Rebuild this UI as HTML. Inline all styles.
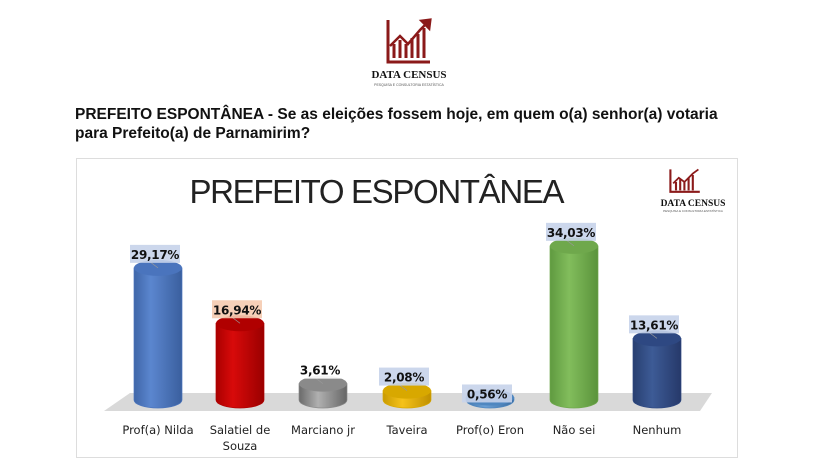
<!DOCTYPE html>
<html><head><meta charset="utf-8"><style>
body{margin:0;width:815px;height:452px;background:#fff;overflow:hidden;font-family:"Liberation Sans",sans-serif;position:relative}
.h{position:absolute;left:75px;top:105px;font-weight:bold;font-size:15.5px;line-height:19px;color:#111;width:672px}
.frame{position:absolute;left:76px;top:158px;width:662px;height:300px;border:1px solid #ddd;box-sizing:border-box}
</style></head><body>
<svg width="815" height="452" style="position:absolute;left:0;top:0">
<defs>
<linearGradient id="gb" x1="0" x2="1"><stop offset="0" stop-color="#3f66a8"/><stop offset=".35" stop-color="#5b86cf"/><stop offset="1" stop-color="#3a5f9e"/></linearGradient>
<linearGradient id="gr" x1="0" x2="1"><stop offset="0" stop-color="#a00"/><stop offset=".35" stop-color="#d80a0a"/><stop offset="1" stop-color="#9a0000"/></linearGradient>
<linearGradient id="gg" x1="0" x2="1"><stop offset="0" stop-color="#6a6a6a"/><stop offset=".4" stop-color="#b0b0b0"/><stop offset="1" stop-color="#666"/></linearGradient>
<linearGradient id="gy" x1="0" x2="1"><stop offset="0" stop-color="#c99a00"/><stop offset=".4" stop-color="#f5c21a"/><stop offset="1" stop-color="#c09000"/></linearGradient>
<linearGradient id="gl" x1="0" x2="1"><stop offset="0" stop-color="#3e75ad"/><stop offset=".4" stop-color="#6b9fd4"/><stop offset="1" stop-color="#3b6ea3"/></linearGradient>
<linearGradient id="gn" x1="0" x2="1"><stop offset="0" stop-color="#5f9a40"/><stop offset=".4" stop-color="#82bd5c"/><stop offset="1" stop-color="#5a933b"/></linearGradient>
<linearGradient id="gd" x1="0" x2="1"><stop offset="0" stop-color="#283f70"/><stop offset=".4" stop-color="#3d5b96"/><stop offset="1" stop-color="#26396a"/></linearGradient>
</defs>
<g transform="translate(386,18)" stroke="#8b1a1a" fill="none" stroke-width="3">
<path d="M2 2 V44 H44"/><path d="M8 40V26M14 40V22M20 40V26M26 40V20M32 40V16M38 40V10"/>
<path d="M4 28 L14 18 L22 26 L34 12 L42 4" stroke-width="2.5"/><path d="M36 3 L44 2 L43 10Z" fill="#8b1a1a"/>
</g>
<text x="409" y="78" text-anchor="middle" font-family="Liberation Serif" font-weight="bold" font-size="11" fill="#111">DATA CENSUS</text>
<text x="409" y="86" text-anchor="middle" font-size="3.5" fill="#555">PESQUISA E CONSULTORIA ESTATÍSTICA</text>
<g transform="translate(669,168) scale(0.7)" stroke="#8b1a1a" fill="none" stroke-width="3">
<path d="M2 2 V34 H44"/><path d="M10 32V20M16 32V16M22 32V20M28 32V14M34 32V10"/>
<path d="M6 22 L14 14 L22 20 L34 8 L42 2" stroke-width="2.5"/>
</g>
<text x="693" y="206" text-anchor="middle" font-family="Liberation Serif" font-weight="bold" font-size="9.5" fill="#111">DATA CENSUS</text>
<text x="693" y="212" text-anchor="middle" font-size="3" fill="#555">PESQUISA E CONSULTORIA ESTATÍSTICA</text>
<text x="377" y="203" text-anchor="middle" font-size="33" fill="#222" textLength="375" lengthAdjust="spacing">PREFEITO ESPONTÂNEA</text>
<polygon points="130,393 712,393 700,411 104,411" fill="#d9d9d9"/>
<g id="bars"></g>
</svg>
<div class="frame"></div>
<div class="h">PREFEITO ESPONTÂNEA - Se as eleições fossem hoje, em quem o(a) senhor(a) votaria para Prefeito(a) de Parnamirim?</div>
<script>
var d=[[158,29.17,'gb','#4a74bd','#c7d3ea','29,17%','Prof(a) Nilda'],[240,16.94,'gr','#b00000','#f5cbb0','16,94%','Salatiel de|Souza'],[323,3.61,'gg','#8a8a8a','#fff','3,61%','Marciano jr'],[407,2.08,'gy','#d8a800','#c7d3ea','2,08%','Taveira'],[490,0.56,'gl','#4f87c0','#c7d3ea','0,56%','Prof(o) Eron'],[574,34.03,'gn','#6fa84c','#c7d3ea','34,03%','Não sei'],[657,13.61,'gd','#2e4882','#c7d3ea','13,61%','Nenhum']];
var s='',B=400,rx=24,ry=8;
d.forEach(function(b){var x=b[0],t=B-b[1]*4.53;
s+='<path d="M'+(x-rx)+' '+t+'V'+B+'A'+rx+' '+ry+' 0 0 0 '+(x+rx)+' '+B+'V'+t+'Z" fill="url(#'+b[2]+')" stroke="'+b[3]+'" stroke-width=".7"/>';
s+='<ellipse cx="'+x+'" cy="'+t+'" rx="'+rx+'" ry="'+ry+'" fill="'+b[3]+'"/>';
var ly=t-14; if(b[1]<1) ly=t-4;
s+='<line x1="'+x+'" y1="'+t+'" x2="'+(x-8)+'" y2="'+(ly+8)+'" stroke="#999" stroke-width=".7"/>';
s+='<rect x="'+(x-28)+'" y="'+(ly-9)+'" width="50" height="18" fill="'+b[4]+'" opacity=".9"/>';
s+='<text x="'+(x-3)+'" y="'+(ly+5)+'" text-anchor="middle" font-family="DejaVu Sans" font-weight="bold" font-size="12" fill="#111" letter-spacing="-0.3">'+b[5]+'</text>';
var L=b[6].split('|');L.forEach(function(l,i){s+='<text x="'+x+'" y="'+(434+i*16)+'" text-anchor="middle" font-family="DejaVu Sans" font-size="11.5" fill="#222">'+l+'</text>';});
});
document.getElementById('bars').innerHTML=s;
</script>
</body></html>
